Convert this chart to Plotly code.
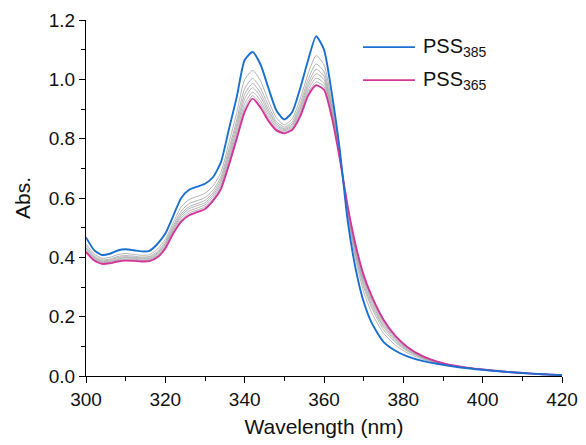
import plotly.graph_objects as go

wavelength = [300, 302, 304, 306, 308, 310, 312, 314, 316, 318,
              320, 322, 324, 326, 328, 330, 332, 334, 336, 338,
              340, 342, 344, 346, 348, 350, 352, 354, 356, 358,
              360, 362, 364, 366, 368, 370, 372,
              375, 378, 381, 385, 390, 395, 400, 405, 410, 415, 420]

pss385 = [.467, .425, .408, .412, .423, .427, .424, .420, .422, .445,
          .48, .54, .60, .628, .638, .648, .67, .72, .83, .94,
          1.065, 1.092, 1.05, .97, .895, .865, .89, .97, 1.065, 1.145,
          1.10, .95, .76, .52, .36, .25, .18,
          .115, .085, .066, .05, .038, .028, .021, .015, .010, .006, .003]

pss365 = [.418, .39, .378, .38, .386, .389, .388, .386, .387, .40,
          .43, .48, .52, .542, .552, .563, .59, .63, .71, .80,
          .89, .935, .905, .86, .828, .818, .83, .875, .945, .98,
          .965, .87, .73, .57, .44, .34, .27,
          .19, .135, .098, .066, .043, .03, .022, .015, .010, .006, .003]

gray1 = [.446, .412, .397, .400, .409, .413, .410, .407, .409, .428,
         .461, .517, .570, .595, .605, .616, .640, .686, .784, .887,
         .999, 1.030, .995, .928, .870, .847, .867, .934, 1.019, 1.080,
         1.049, .920, .749, .539, .390, .284, .214,
         .144, .104, .078, .056, .040, .029, .021, .015, .010, .006, .003]
gray2 = [.438, .406, .392, .394, .403, .406, .404, .401, .403, .420,
         .453, .507, .556, .581, .591, .601, .626, .671, .764, .863,
         .969, 1.003, .970, .910, .858, .839, .857, .918, 1.000, 1.052,
         1.026, .906, .744, .548, .404, .300, .230,
         .156, .113, .084, .059, .041, .029, .022, .015, .010, .006, .003]
gray3 = [.432, .402, .388, .391, .399, .402, .400, .398, .399, .415,
         .447, .500, .547, .571, .581, .592, .617, .661, .751, .848,
         .950, .986, .954, .897, .851, .834, .850, .907, .986, 1.034,
         1.011, .897, .740, .553, .413, .309, .239,
         .165, .118, .087, .061, .041, .030, .022, .015, .010, .006, .003]
gray4 = [.428, .399, .386, .388, .395, .399, .397, .395, .396, .411,
         .443, .495, .540, .564, .574, .584, .610, .653, .740, .835,
         .934, .972, .941, .888, .845, .830, .845, .899, .975, 1.019,
         .999, .890, .738, .558, .420, .318, .248,
         .171, .123, .090, .062, .042, .030, .022, .015, .010, .006, .003]
gray5 = [.423, .396, .383, .385, .392, .395, .394, .391, .393, .407,
         .438, .490, .533, .556, .566, .577, .603, .644, .729, .822,
         .918, .957, .928, .878, .839, .826, .840, .890, .964, 1.004,
         .987, .883, .735, .562, .427, .326, .256,
         .178, .127, .093, .063, .042, .030, .022, .015, .010, .006, .003]
gray6 = [.419, .393, .380, .383, .389, .392, .391, .389, .390, .404,
         .434, .485, .526, .549, .559, .570, .596, .637, .720, .811,
         .904, .945, .917, .869, .833, .822, .835, .883, .955, .991,
         .976, .876, .732, .566, .434, .333, .263,
         .184, .131, .095, .065, .043, .030, .022, .015, .010, .006, .003]

gray_series = [gray1, gray2, gray3, gray4, gray5, gray6]
legend_labels = ["PSS<sub>385</sub>", "PSS<sub>365</sub>"]

BLUE = "#1a6fd1"
PINK = "#d4359b"
GRAY = "#a0a0a0"
FONT = "Arial, Liberation Sans, sans-serif"
TXT = "#111111"

fig = go.Figure()
for g in gray_series:
    fig.add_trace(go.Scatter(x=wavelength, y=g, mode="lines",
                             line=dict(color=GRAY, width=0.8, shape="spline", smoothing=0.6),
                             showlegend=False, hoverinfo="skip"))
fig.add_trace(go.Scatter(x=wavelength, y=pss365, mode="lines", name=legend_labels[1],
                         line=dict(color=PINK, width=1.9, shape="spline", smoothing=0.6),
                         showlegend=False))
fig.add_trace(go.Scatter(x=wavelength, y=pss385, mode="lines", name=legend_labels[0],
                         line=dict(color=BLUE, width=1.9, shape="spline", smoothing=0.6),
                         showlegend=False))

# manual legend (long line samples as in the reference)
leg_items = [(legend_labels[0], BLUE, 0.924), (legend_labels[1], PINK, 0.831)]
for label, col, yy in leg_items:
    fig.add_shape(type="line", xref="paper", yref="paper", x0=0.582, x1=0.691, y0=yy, y1=yy,
                  line=dict(color=col, width=1.8))
    fig.add_annotation(xref="paper", yref="paper", x=0.703, y=yy, text=label, showarrow=False,
                       xanchor="left", yanchor="middle", font=dict(family=FONT, size=20, color=TXT))

axis_common = dict(showline=True, linecolor="black", linewidth=1.3, mirror=False,
                   ticks="outside", ticklen=6, tickwidth=1.3, tickcolor="black",
                   showgrid=False, zeroline=False, automargin=False,
                   tickfont=dict(family=FONT, size=19, color=TXT),
                   title_font=dict(family=FONT, size=21, color=TXT))

fig.update_xaxes(range=[300, 420], dtick=20, tick0=300,
                 minor=dict(dtick=10, ticks="outside", ticklen=3.5, tickwidth=1.2, tickcolor="black"),
                 title_text="Wavelength (nm)", title_standoff=10, **axis_common)
fig.update_yaxes(range=[0, 1.2], dtick=0.2, tick0=0, tickformat=".1f",
                 minor=dict(dtick=0.1, ticks="outside", ticklen=3.5, tickwidth=1.2, tickcolor="black"),
                 title_text="Abs.", title_standoff=12, **axis_common)

fig.update_layout(width=586, height=445, plot_bgcolor="white", paper_bgcolor="white",
                  margin=dict(l=86, r=24, t=20, b=69), showlegend=False)

fig.write_html("out.html")
